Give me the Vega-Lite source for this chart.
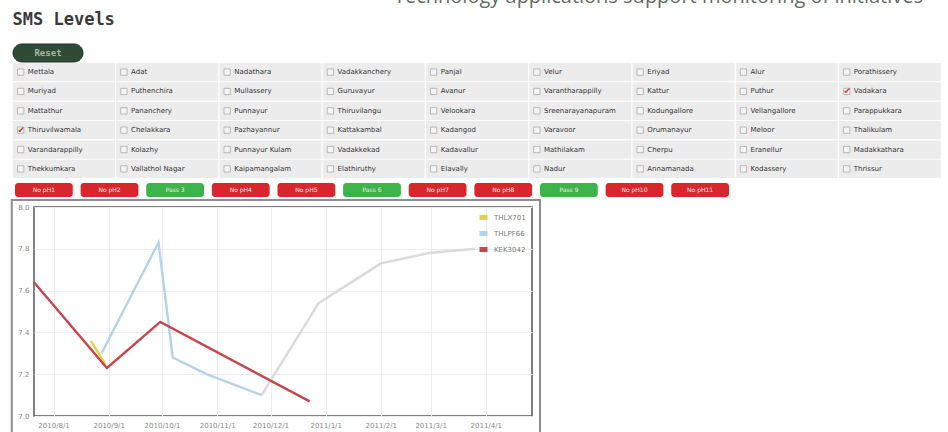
{
  "$schema": "https://vega.github.io/schema/vega-lite/v6.json",
  "padding": {"left": 10, "top": -13, "right": 0, "bottom": 0},
  "background": "white",
  "title": {"text": "Technology applications support monitoring of initiatives", "anchor": "end", "font": "Open Sans", "fontSize": 20, "fontWeight": "normal", "color": "#5f6d5f", "offset": 4, "dx": -26},
  "spacing": 0,
  "resolve": {"scale": {"color": "independent", "fill": "independent"}, "legend": {"color": "independent", "fill": "independent"}},
  "datasets": {
    "reset": [{"label": "Reset"}],
    "places": [
      {"name": "Mettala", "col": 1, "row": 1, "checked": false},
      {"name": "Adat", "col": 2, "row": 1, "checked": false},
      {"name": "Nadathara", "col": 3, "row": 1, "checked": false},
      {"name": "Vadakkanchery", "col": 4, "row": 1, "checked": false},
      {"name": "Panjal", "col": 5, "row": 1, "checked": false},
      {"name": "Velur", "col": 6, "row": 1, "checked": false},
      {"name": "Eriyad", "col": 7, "row": 1, "checked": false},
      {"name": "Alur", "col": 8, "row": 1, "checked": false},
      {"name": "Porathissery", "col": 9, "row": 1, "checked": false},
      {"name": "Muriyad", "col": 1, "row": 2, "checked": false},
      {"name": "Puthenchira", "col": 2, "row": 2, "checked": false},
      {"name": "Mullassery", "col": 3, "row": 2, "checked": false},
      {"name": "Guruvayur", "col": 4, "row": 2, "checked": false},
      {"name": "Avanur", "col": 5, "row": 2, "checked": false},
      {"name": "Varantharappilly", "col": 6, "row": 2, "checked": false},
      {"name": "Kattur", "col": 7, "row": 2, "checked": false},
      {"name": "Puthur", "col": 8, "row": 2, "checked": false},
      {"name": "Vadakara", "col": 9, "row": 2, "checked": true},
      {"name": "Mattathur", "col": 1, "row": 3, "checked": false},
      {"name": "Pananchery", "col": 2, "row": 3, "checked": false},
      {"name": "Punnayur", "col": 3, "row": 3, "checked": false},
      {"name": "Thiruvilangu", "col": 4, "row": 3, "checked": false},
      {"name": "Velookara", "col": 5, "row": 3, "checked": false},
      {"name": "Sreenarayanapuram", "col": 6, "row": 3, "checked": false},
      {"name": "Kodungallore", "col": 7, "row": 3, "checked": false},
      {"name": "Vellangallore", "col": 8, "row": 3, "checked": false},
      {"name": "Parappukkara", "col": 9, "row": 3, "checked": false},
      {"name": "Thiruvilwamala", "col": 1, "row": 4, "checked": true},
      {"name": "Chelakkara", "col": 2, "row": 4, "checked": false},
      {"name": "Pazhayannur", "col": 3, "row": 4, "checked": false},
      {"name": "Kattakambal", "col": 4, "row": 4, "checked": false},
      {"name": "Kadangod", "col": 5, "row": 4, "checked": false},
      {"name": "Varavoor", "col": 6, "row": 4, "checked": false},
      {"name": "Orumanayur", "col": 7, "row": 4, "checked": false},
      {"name": "Meloor", "col": 8, "row": 4, "checked": false},
      {"name": "Thalikulam", "col": 9, "row": 4, "checked": false},
      {"name": "Varandarappilly", "col": 1, "row": 5, "checked": false},
      {"name": "Kolazhy", "col": 2, "row": 5, "checked": false},
      {"name": "Punnayur Kulam", "col": 3, "row": 5, "checked": false},
      {"name": "Vadakkekad", "col": 4, "row": 5, "checked": false},
      {"name": "Kadavallur", "col": 5, "row": 5, "checked": false},
      {"name": "Mathilakam", "col": 6, "row": 5, "checked": false},
      {"name": "Cherpu", "col": 7, "row": 5, "checked": false},
      {"name": "Eranellur", "col": 8, "row": 5, "checked": false},
      {"name": "Madakkathara", "col": 9, "row": 5, "checked": false},
      {"name": "Thekkumkara", "col": 1, "row": 6, "checked": false},
      {"name": "Vallathol Nagar", "col": 2, "row": 6, "checked": false},
      {"name": "Kaipamangalam", "col": 3, "row": 6, "checked": false},
      {"name": "Elathiruthy", "col": 4, "row": 6, "checked": false},
      {"name": "Elavally", "col": 5, "row": 6, "checked": false},
      {"name": "Nadur", "col": 6, "row": 6, "checked": false},
      {"name": "Annamanada", "col": 7, "row": 6, "checked": false},
      {"name": "Kodassery", "col": 8, "row": 6, "checked": false},
      {"name": "Thrissur", "col": 9, "row": 6, "checked": false}
    ],
    "buttons": [
      {"id": 1, "label": "No pH1", "status": "fail"},
      {"id": 2, "label": "No pH2", "status": "fail"},
      {"id": 3, "label": "Pass 3", "status": "pass"},
      {"id": 4, "label": "No pH4", "status": "fail"},
      {"id": 5, "label": "No pH5", "status": "fail"},
      {"id": 6, "label": "Pass 6", "status": "pass"},
      {"id": 7, "label": "No pH7", "status": "fail"},
      {"id": 8, "label": "No pH8", "status": "fail"},
      {"id": 9, "label": "Pass 9", "status": "pass"},
      {"id": 10, "label": "No pH10", "status": "fail"},
      {"id": 11, "label": "No pH11", "status": "fail"}
    ],
    "series": [
      {"series": "THLPF66 trend", "date": "2010-11-26", "value": 7.10},
      {"series": "THLPF66 trend", "date": "2010-12-28", "value": 7.54},
      {"series": "THLPF66 trend", "date": "2011-02-01", "value": 7.73},
      {"series": "THLPF66 trend", "date": "2011-02-28", "value": 7.78},
      {"series": "THLPF66 trend", "date": "2011-03-26", "value": 7.80},
      {"series": "THLX701", "date": "2010-08-22", "value": 7.36},
      {"series": "THLX701", "date": "2010-08-30", "value": 7.25},
      {"series": "THLPF66", "date": "2010-08-28", "value": 7.30},
      {"series": "THLPF66", "date": "2010-09-29", "value": 7.83},
      {"series": "THLPF66", "date": "2010-10-07", "value": 7.28},
      {"series": "THLPF66", "date": "2010-10-26", "value": 7.20},
      {"series": "THLPF66", "date": "2010-11-26", "value": 7.10},
      {"series": "KEK3042", "date": "2010-07-21", "value": 7.64},
      {"series": "KEK3042", "date": "2010-08-31", "value": 7.23},
      {"series": "KEK3042", "date": "2010-09-30", "value": 7.45},
      {"series": "KEK3042", "date": "2010-12-23", "value": 7.07}
    ]
  },
  "vconcat": [
    {
      "title": {"text": "SMS Levels", "anchor": "start", "font": "DejaVu Sans Mono", "fontSize": 17, "fontWeight": "bold", "color": "#3a3a3a", "offset": 4},
      "width": 915,
      "height": 165,
      "view": {"fill": "white", "stroke": null},
      "resolve": {"scale": {"x": "independent", "y": "independent", "fill": "independent"}},
      "layer": [
        {
          "data": {"name": "reset"},
          "layer": [
            {
              "mark": {"type": "rect", "cornerRadius": 9, "fill": "#2f4b35", "stroke": "#1e3124", "strokeWidth": 1},
              "encoding": {
                "x": {"field": "label", "type": "nominal", "scale": {"range": [-21, 49], "paddingInner": 0, "paddingOuter": 0}, "axis": null},
                "y": {"field": "label", "type": "nominal", "scale": {"range": [11, 29], "paddingInner": 0, "paddingOuter": 0}, "axis": null}
              }
            },
            {
              "mark": {"type": "text", "fontSize": 9, "font": "DejaVu Sans Mono", "fontWeight": "bold", "color": "#a3b9a3"},
              "encoding": {
                "x": {"field": "label", "type": "nominal", "scale": {"range": [-21, 49], "paddingInner": 0, "paddingOuter": 0}, "axis": null},
                "y": {"field": "label", "type": "nominal", "scale": {"range": [11, 29], "paddingInner": 0, "paddingOuter": 0}, "axis": null},
                "text": {"field": "label"}
              }
            }
          ]
        },
        {
          "data": {"name": "places"},
          "layer": [
            {
              "mark": {"type": "rect", "fill": "#ececec"},
              "encoding": {
                "x": {"field": "col", "type": "ordinal", "scale": {"range": [-21, 907], "paddingInner": 0.012, "paddingOuter": 0}, "axis": null},
                "y": {"field": "row", "type": "ordinal", "scale": {"range": [30, 145], "paddingInner": 0.06, "paddingOuter": 0}, "axis": null}
              }
            },
            {
              "mark": {"type": "square", "size": 40, "filled": true, "fill": "#fafafa", "stroke": "#8f8f8f", "strokeWidth": 0.8},
              "encoding": {
                "x": {"field": "col", "type": "ordinal", "bandPosition": 0.075, "axis": null},
                "y": {"field": "row", "type": "ordinal", "axis": null}
              }
            },
            {
              "transform": [{"filter": "datum.checked"}],
              "mark": {"type": "text", "text": "✔", "fontSize": 9, "color": "#c0392b"},
              "encoding": {
                "x": {"field": "col", "type": "ordinal", "bandPosition": 0.08, "axis": null},
                "y": {"field": "row", "type": "ordinal", "axis": null}
              }
            },
            {
              "mark": {"type": "text", "align": "left", "baseline": "middle", "fontSize": 7, "font": "DejaVu Sans", "color": "#333"},
              "encoding": {
                "x": {"field": "col", "type": "ordinal", "bandPosition": 0.145, "axis": null},
                "y": {"field": "row", "type": "ordinal", "axis": null},
                "text": {"field": "name"}
              }
            }
          ]
        },
        {
          "data": {"name": "buttons"},
          "layer": [
            {
              "mark": {"type": "rect", "cornerRadius": 3},
              "encoding": {
                "x": {"field": "id", "type": "ordinal", "scale": {"range": [-19, 695], "paddingInner": 0.12, "paddingOuter": 0}, "axis": null},
                "y": {"datum": "buttons", "type": "nominal", "scale": {"range": [150, 164], "paddingInner": 0, "paddingOuter": 0}, "axis": null},
                "fill": {"field": "status", "type": "nominal", "scale": {"domain": ["fail", "pass"], "range": ["#d8262d", "#3cb44b"]}, "legend": null}
              }
            },
            {
              "mark": {"type": "text", "fontSize": 6, "color": "#ffe8e8"},
              "encoding": {
                "x": {"field": "id", "type": "ordinal", "scale": {"range": [-19, 695], "paddingInner": 0.12, "paddingOuter": 0}, "axis": null},
                "y": {"datum": "buttons", "type": "nominal", "scale": {"range": [150, 164], "paddingInner": 0, "paddingOuter": 0}, "axis": null},
                "text": {"field": "label"}
              }
            }
          ]
        }
      ]
    },
    {
      "width": 498,
      "height": 209,
      "view": {"stroke": "#555", "strokeWidth": 1.5},
      "layer": [
        {
          "data": {"values": [{"frame": "widget"}]},
          "mark": {"type": "rect", "fill": "transparent", "stroke": "#8e8e8e", "strokeWidth": 2},
          "encoding": {
            "x": {"datum": {"year": 2010, "month": 7, "date": 8, "hours": 12, "utc": true}, "type": "temporal",
                  "scale": {"type": "utc", "domain": [{"year": 2010, "month": 7, "date": 21, "utc": true}, {"year": 2011, "month": 4, "date": 27, "utc": true}]},
                  "axis": {"title": null, "format": "%Y/%-m/%-d", "tickCount": {"interval": "month", "step": 1}, "labelFontSize": 7, "labelColor": "#888", "ticks": false, "domain": false, "grid": true, "gridColor": "#ececec", "labelPadding": 5, "labelOverlap": false}},
            "x2": {"datum": {"year": 2011, "month": 5, "date": 1, "hours": 12, "utc": true}},
            "y": {"datum": 8.0335, "type": "quantitative",
                  "scale": {"domain": [7, 8]},
                  "axis": {"title": null, "values": [7, 7.2, 7.4, 7.6, 7.8, 8], "format": ".1f", "labelFontSize": 7, "labelColor": "#888", "ticks": false, "domain": false, "grid": true, "gridColor": "#ececec", "labelPadding": 5}},
            "y2": {"datum": 6.8}
          }
        },
        {
          "data": {"name": "series"},
          "mark": {"type": "line", "strokeWidth": 2.4},
          "encoding": {
            "x": {"field": "date", "type": "temporal",
                  "scale": {"type": "utc", "domain": [{"year": 2010, "month": 7, "date": 21, "utc": true}, {"year": 2011, "month": 4, "date": 27, "utc": true}]},
                  "axis": {"title": null, "format": "%Y/%-m/%-d", "tickCount": {"interval": "month", "step": 1}, "labelFontSize": 7, "labelColor": "#888", "ticks": false, "domain": false, "grid": true, "gridColor": "#ececec", "labelPadding": 5, "labelOverlap": false}},
            "y": {"field": "value", "type": "quantitative",
                  "scale": {"domain": [7, 8]},
                  "axis": {"title": null, "values": [7, 7.2, 7.4, 7.6, 7.8, 8], "format": ".1f", "labelFontSize": 7, "labelColor": "#888", "ticks": false, "domain": false, "grid": true, "gridColor": "#ececec", "labelPadding": 5}},
            "color": {"field": "series", "type": "nominal",
                      "scale": {"domain": ["THLX701", "THLPF66", "KEK3042", "THLPF66 trend"], "range": ["#e2d44a", "#b3d3ea", "#c8454d", "#dadada"]},
                      "legend": {"title": null, "orient": "top-right", "offset": 4, "values": ["THLX701", "THLPF66", "KEK3042"], "symbolType": "stroke", "symbolSize": 64, "symbolStrokeWidth": 5, "labelFontSize": 7, "labelColor": "#777", "rowPadding": 7, "clipHeight": 9, "labelOffset": 4, "padding": 2}}
          }
        }
      ]
    }
  ],
  "config": {"font": "DejaVu Sans", "view": {"stroke": null}}
}
